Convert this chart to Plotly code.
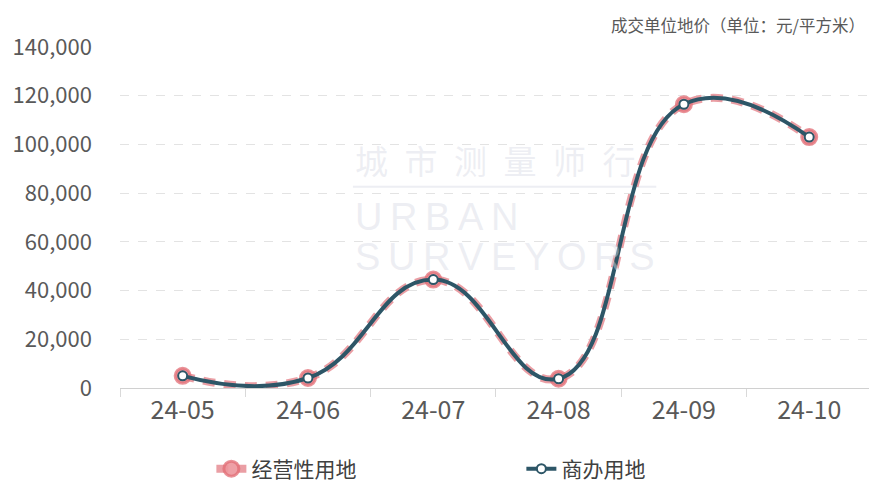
import plotly.graph_objects as go

months = ["24-05", "24-06", "24-07", "24-08", "24-09", "24-10"]
jingying = [5000, 4100, 44500, 3800, 116500, 103000]
shangban = [5000, 4100, 44500, 3800, 116500, 103000]
y_ticks = [0, 20000, 40000, 60000, 80000, 100000, 120000, 140000]

fig = go.Figure()
fig.add_trace(go.Scatter(
    x=months, y=jingying, name="经营性用地", mode="lines+markers",
    line=dict(color="rgba(232,148,154,0.9)", width=8, dash="12px,9px", shape="spline", smoothing=1.3),
    marker=dict(size=15, color="rgba(236,150,156,0.9)", line=dict(color="rgba(226,110,118,0.75)", width=3)),
))
fig.add_trace(go.Scatter(
    x=months, y=shangban, name="商办用地", mode="lines+markers",
    line=dict(color="#2d5667", width=4, shape="spline", smoothing=1.3),
    marker=dict(size=9, color="white", line=dict(color="#2d5667", width=2)),
))

wm = "rgba(215,218,228,0.45)"
fig.add_annotation(text="城\u2002市\u2002测\u2002量\u2002师\u2002行", x=0.311, y=0.669, xref="paper", yref="paper",
                   xanchor="left", yanchor="middle", showarrow=False,
                   font=dict(size=33, color=wm, family="Noto Sans CJK SC"))
fig.add_shape(type="line", xref="paper", yref="paper", x0=0.311, x1=0.716, y0=0.59, y1=0.59,
              line=dict(color=wm, width=2), layer="below")
fig.add_annotation(text="U\u2009R\u2009B\u2009A\u2009N", x=0.311, y=0.502, xref="paper", yref="paper",
                   xanchor="left", yanchor="middle", showarrow=False,
                   font=dict(size=38, color=wm, family="Liberation Sans"))
fig.add_annotation(text="S\u2009U\u2009R\u2009V\u2009E\u2009Y\u2009O\u2009R\u2009S", x=0.311, y=0.385, xref="paper", yref="paper",
                   xanchor="left", yanchor="middle", showarrow=False,
                   font=dict(size=38, color=wm, family="Liberation Sans"))

fig.add_annotation(text="成交单位地价（单位：元/平方米）", x=1, y=1, xref="paper", yref="paper",
                   xanchor="right", yanchor="middle", yshift=22, xshift=-2, showarrow=False,
                   font=dict(size=16.5, color="#595959"))

fig.update_layout(
    width=869, height=484,
    margin=dict(l=120, r=0, t=47, b=96, autoexpand=False),
    plot_bgcolor="white", paper_bgcolor="white",
    font=dict(family="Noto Sans CJK SC, Noto Sans, sans-serif", color="#595959"),
    showlegend=True,
    legend=dict(orientation="h", x=0.122, xanchor="left", y=-0.2375, yanchor="middle",
                font=dict(size=21, color="#404040"), itemwidth=30, entrywidth=265,
                bgcolor="rgba(0,0,0,0)"),
    xaxis=dict(type="category", range=[-0.5, 5.477], showgrid=False,
               showline=True, linecolor="#d0d0d0", linewidth=1,
               ticks="outside", tickson="boundaries", ticklen=8, tickcolor="#d9d9d9",
               tickfont=dict(size=25, color="#595959")),
    yaxis=dict(range=[0, 140000], tickvals=y_ticks, tickformat=",",
               showgrid=True, gridcolor="#e3e3e3", griddash="dash", zeroline=False,
               showline=False, ticks="", ticklabelstandoff=27,
               tickfont=dict(size=22, color="#595959")),
)

fig.write_html("out.html", config={"displayModeBar": False},
               post_script="document.body.style.margin='0';document.body.style.overflow='hidden';")
